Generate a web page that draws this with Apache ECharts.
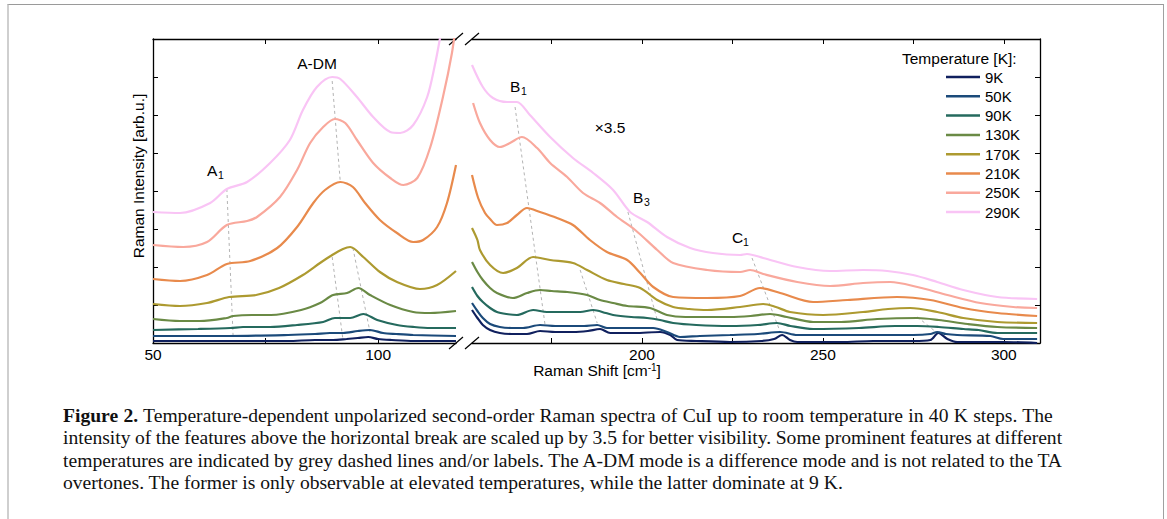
<!DOCTYPE html>
<html>
<head>
<meta charset="utf-8">
<script src="https://cdn.jsdelivr.net/npm/echarts@6.0.0/dist/echarts.min.js"></script>
<style>
  html, body { margin: 0; padding: 0; background: #fff; }
  body { width: 1167px; height: 519px; position: relative; overflow: hidden; }
  #frame { position: absolute; left: 7px; top: 4px; width: 1154px; height: 560px;
           border-top: 1px solid #9a9a9a; border-left: 2px solid #cfcfcf; border-right: 1px solid #a0a0a0; }
  #chart { position: absolute; left: 0; top: 0; width: 1167px; height: 380px; }
  .cap { position: absolute; left: 63px; font-family: "Liberation Serif", "DejaVu Serif", serif;
         font-size: 19.6px; line-height: 22.5px; white-space: nowrap; color: #111; }
</style>
</head>
<body>
<div id="frame"></div>
<div id="chart"></div>
<div class="cap" style="top:404.5px; word-spacing:0.4px"><b>Figure 2.</b> Temperature-dependent unpolarized second-order Raman spectra of CuI up to room temperature in 40 K steps. The</div>
<div class="cap" style="top:427px; word-spacing:-0.4px">intensity of the features above the horizontal break are scaled up by 3.5 for better visibility. Some prominent features at different</div>
<div class="cap" style="top:449.5px; word-spacing:-0.2px">temperatures are indicated by grey dashed lines and/or labels. The A-DM mode is a difference mode and is not related to the TA</div>
<div class="cap" style="top:472px">overtones. The former is only observable at elevated temperatures, while the latter dominate at 9 K.</div>
<script>
// temperatures and colours, coldest first
const tempNames = ['9K', '50K', '90K', '130K', '170K', '210K', '250K', '290K'];
const tempColors = ['#10205e', '#1b4a7a', '#256a5e', '#6a8a45', '#ad9a30', '#e88a4c', '#f9a89c', '#f9c4f5'];

// low shift part, [Raman shift, intensity (offset, arb.u.)]
const low9 = [[50,2],[60,2],[70,2],[80,2],[86,3],[90,3],[93,4],[95.5,5],[97.8,6],[100,4],[103,3],[108,2],[117.3,2]];
const low50 = [[50,7],[66.7,7],[80,8],[86,9],[89.3,10],[92.2,10],[95.5,12],[98.2,13],[101.1,10],[104,9],[107.8,8],[117.3,7]];
const low90 = [[50,13],[60,14],[67.2,15],[70,16],[76,16],[82,18],[87.8,21],[90.4,25],[93.8,25],[96.7,29],[99.8,23],[104.2,18],[108,16],[111.6,15],[117.3,15]];
const low130 = [[50,24],[56,22],[60.4,22],[66.4,25],[67.8,27],[72,28],[76.2,28],[82.9,33],[87.1,40],[90,48],[93.1,50],[95.6,55],[98.2,48],[102.7,38],[107.8,31],[111.6,30],[117.3,32]];
const low170 = [[50,39],[56,37],[62,40],[66.9,46],[72.9,48],[78,55],[83.3,68],[87.1,80],[89.8,88],[92.2,94],[93.8,96],[96.7,86],[100.4,71],[104.2,61],[109.3,54],[113.1,58],[117.3,72]];
const low210 = [[50,64],[56,62],[62,68],[66.4,79],[71.6,82],[77.6,95],[82,116],[85.6,140],[88.2,153],[91.6,161],[94.4,156],[97.1,140],[100.4,123],[104.2,110],[107.8,101],[110,103],[113.1,116],[115.3,140],[117.3,178]];
const low250 = [[50,98],[56.7,96],[62,101],[66.4,118],[70.9,122],[73.1,126],[78.2,146],[82,173],[84.9,200],[87.8,216],[90.4,224],[92.7,220],[95.3,203],[98.9,180],[102.7,165],[105.6,158],[108.7,165],[111.6,196],[114.4,246],[116.4,290],[117.3,320]];
const low290 = [[50,131],[56,130],[62.7,140],[66.4,154],[70.9,161],[76,180],[80.4,203],[83.3,233],[86.4,256],[89.8,266],[91.6,264],[95.3,246],[98.9,226],[102.7,211],[104.9,210],[107.8,218],[110.9,246],[112.7,280],[113.8,306],[115.3,343]];

// high shift part (already x3.5)
const high9 = [[153,33],[154.5,25],[156,18],[158,13],[160.7,10],[164,9],[168.2,9],[171.8,12],[176,11],[180.9,11],[185,12],[188.4,14],[191.2,10],[198,10],[205,11],[207.8,8],[209.7,3],[215,2],[224.3,1],[233,2],[236.5,4],[238.7,8],[240.9,3],[242.9,1],[255,1],[263.9,2],[275,2],[279.7,3],[281.9,10],[284.4,4],[287.1,1],[300,1],[309.2,0]];
const high50 = [[153,40],[154.5,32],[156,25],[158,19],[160.7,16],[164,15],[167.1,15],[171.8,18],[176,17],[180.9,17],[184,17],[187.6,18],[190.3,15],[197,15],[203.1,15],[206.9,11],[210.5,6],[216,7],[224.3,8],[232,9],[238.2,11],[242.9,8],[255,8],[265,8],[275,8],[279.7,9],[281.6,11],[284,9],[287.1,8],[296.3,7],[299.8,4],[309.2,4]];
const high90 = [[153,56],[154.5,47],[156,41],[158,35],[159.9,31],[162.5,29],[165.4,28],[169.9,33],[173.7,31],[178,31],[182.9,31],[186.5,33],[190,30],[192,28],[197,26],[201.4,25],[205,23],[208.6,20],[215,18],[224.3,17],[232,18],[237.3,20],[241,17],[247.3,14],[260,15],[270,17],[276.1,17],[282,16],[288.8,14],[293,13],[298.2,10],[309.2,10]];
const high130 = [[153,81],[154.5,71],[156,63],[158,55],[159.9,50],[164.3,45],[168.2,50],[171.8,53],[175,52],[179.3,51],[184.8,48],[188.4,43],[192,40],[195.9,37],[202.2,35],[206.9,28],[212,26],[218,26],[224.3,26],[230,27],[235.4,29],[240,26],[247.3,21],[255,21],[265,24],[276.1,25],[282,23],[290,19],[298.2,16],[309.2,15]];
const high170 = [[153,115],[154.5,103],[155.2,93],[158,78],[161.6,70],[165.4,75],[169.9,86],[174.6,83],[180.9,80],[184.8,73],[190.3,63],[195,59],[199.5,55],[204.2,43],[208.6,36],[213,34],[218,33],[227.1,36],[233.5,39],[237,36],[240.9,31],[250.1,28],[261.1,31],[268,34],[274.1,35],[281.6,31],[288.8,25],[298.2,21],[309.2,20]];
const high210 = [[153,168],[154.7,145],[156.6,130],[158,124],[159.9,118],[162.7,120],[165.4,128],[168.2,135],[171.8,131],[176.5,125],[180.9,118],[185.6,103],[190.3,91],[195.9,83],[199.5,70],[203.1,56],[208.6,46],[218,45],[227.1,47],[232.6,55],[238.2,50],[247.3,41],[256.7,43],[270.5,46],[279.7,43],[288.8,35],[298.2,30],[309.2,27]];
const high250 = [[153.3,240],[155.2,220],[158,203],[160.7,196],[163.5,200],[166.8,206],[171,195],[174.6,180],[179.3,166],[183.7,150],[188.4,140],[193.1,126],[198.1,113],[204.2,93],[208.6,80],[218,73],[227.1,71],[229.9,73],[233.5,69],[242.9,61],[252,57],[261.1,60],[268.6,61],[276.1,56],[284.4,48],[293.5,40],[302.6,36],[309.2,35]];
const high290 = [[153,278],[156,256],[158.8,245],[162.7,241],[165.4,241],[169,228],[174.6,206],[180.9,185],[186.5,170],[192,153],[196.7,131],[201.4,121],[206.9,106],[213.3,95],[219.6,90],[227.1,88],[229,89],[233.5,85],[242.9,76],[252,72],[261.1,73],[267.8,72],[274.9,68],[281.6,61],[288.8,53],[298.2,46],[309.2,44]];

// grey dashed guides following features
const lowGuides = [
  [[66.4,154],[67.8,6]],
  [[89.8,262],[91.6,161]],
  [[89.8,86],[92.2,3]],
  [[94.4,95],[98.2,11]]
];
const highGuides = [
  [[164.9,236],[173.2,18]],
  [[182.9,73],[187.6,20]],
  [[196.1,131],[204.2,23]],
  [[230.4,85],[238.2,11]],
  [[276.1,26],[281.6,10]]
];

const lowTicks = [75, 100];
const lowLabels = [50, 100];
const highTicks = [175, 200, 225, 250, 275, 300];
const highLabels = [200, 250, 300];

const lowData = [low9, low50, low90, low130, low170, low210, low250, low290];
const highData = [high9, high50, high90, high130, high170, high210, high250, high290];

const FONT = '"Liberation Sans", Arial, sans-serif';
const chart = echarts.init(document.getElementById('chart'), null, { renderer: 'svg' });

const axisLine = { show: true, lineStyle: { color: '#000', width: 1.3 } };
const tick = { show: true, inside: true, length: 5, lineStyle: { color: '#000', width: 1 } };

function xAxisFor(grid, pos, min, max, ticks, labels) {
  return {
    type: 'value', gridIndex: grid, position: pos, min: min, max: max,
    axisLine: axisLine,
    axisTick: Object.assign({}, tick, { customValues: ticks }),
    axisLabel: labels ? { show: true, customValues: labels, color: '#000', fontSize: 15.5, lineHeight: 14,
      fontFamily: FONT, margin: 4 } : { show: false },
    splitLine: { show: false }
  };
}
function yAxisFor(grid, pos) {
  return {
    type: 'value', gridIndex: grid, position: pos, min: 0, max: 304, interval: 38,
    axisLine: axisLine, axisTick: tick, axisLabel: { show: false }, splitLine: { show: false }
  };
}

const series = [];
tempNames.forEach((name, i) => {
  const style = { width: 2.2, color: tempColors[i] };
  series.push({ name: name, type: 'line', xAxisIndex: 0, yAxisIndex: 0, data: lowData[i], showSymbol: false,
    smooth: 0.3, lineStyle: style, itemStyle: { color: tempColors[i] }, z: 3 });
  series.push({ name: name, type: 'line', xAxisIndex: 2, yAxisIndex: 1, data: highData[i], showSymbol: false,
    smooth: 0.3, lineStyle: style, itemStyle: { color: tempColors[i] }, z: 3 });
});
const guideStyle = { width: 1, color: '#b3b3b3', type: [3, 3] };
lowGuides.forEach(g => series.push({ type: 'line', xAxisIndex: 0, yAxisIndex: 0, data: g, showSymbol: false, silent: true, lineStyle: guideStyle, z: 2 }));
highGuides.forEach(g => series.push({ type: 'line', xAxisIndex: 2, yAxisIndex: 1, data: g, showSymbol: false, silent: true, lineStyle: guideStyle, z: 2 }));

function label(x, y, text, align, size) {
  return { type: 'text', x: x, y: y, silent: true,
    style: { text: text, fill: '#000', fontSize: size || 15.5, fontFamily: FONT,
      align: align || 'left', verticalAlign: 'middle' } };
}
// letter with a lowered index
function subLabel(x, y, letter, index) {
  return [label(x, y, letter), label(x + 11, y + 4.5, index, 'left', 10.5)];
}
function brk(x1, y1, x2, y2) {
  return { type: 'line', silent: true, shape: { x1: x1, y1: y1, x2: x2, y2: y2 }, style: { stroke: '#000', lineWidth: 1.2 } };
}

chart.setOption({
  animation: false,
  textStyle: { fontFamily: FONT },
  grid: [
    { left: 153, top: 39, width: 303, height: 304 },
    { left: 472, top: 39, width: 568, height: 304 }
  ],
  xAxis: [
    xAxisFor(0, 'bottom', 50, 117.3, lowTicks, lowLabels),
    xAxisFor(0, 'top', 50, 117.3, lowTicks, null),
    xAxisFor(1, 'bottom', 153, 310, highTicks, highLabels),
    xAxisFor(1, 'top', 153, 310, highTicks, null)
  ],
  yAxis: [yAxisFor(0, 'left'), yAxisFor(1, 'right')],
  legend: {
    data: tempNames, orient: 'vertical', left: 946, top: 69.5, padding: 0, icon: 'rect',
    itemWidth: 34, itemHeight: 2.5, itemGap: 4.3, selectedMode: false,
    textStyle: { fontSize: 15, lineHeight: 15, color: '#000', fontFamily: FONT }
  },
  graphic: [
    label(902, 58.5, 'Temperature [K]:'),
    label(317, 63.5, 'A-DM', 'center'),
    ...subLabel(207, 170.5, 'A', '1'),
    ...subLabel(510, 86, 'B', '1'),
    label(610, 127, '×3.5', 'center'),
    ...subLabel(633, 197.5, 'B', '3'),
    ...subLabel(732, 237.5, 'C', '1'),
    { type: 'text', x: 597, y: 370, silent: true,
      style: { text: '{n|Raman Shift [cm}{s|-1}{n|]}', align: 'center', verticalAlign: 'middle',
        rich: { n: { fill: '#000', fontSize: 15.5, fontFamily: FONT, lineHeight: 16 },
                s: { fill: '#000', fontSize: 10, fontFamily: FONT, lineHeight: 10, verticalAlign: 'top' } } } },
    { type: 'text', x: 138, y: 176, rotation: Math.PI / 2, silent: true,
      style: { text: 'Raman Intensity [arb.u.]', fill: '#000', fontSize: 15.5, fontFamily: FONT, align: 'center', verticalAlign: 'middle' } },
    brk(449, 45, 463, 33), brk(465, 45, 479, 33),
    brk(449, 349, 463, 337), brk(465, 349, 479, 337)
  ],
  series: series
});
</script>
</body>
</html>
